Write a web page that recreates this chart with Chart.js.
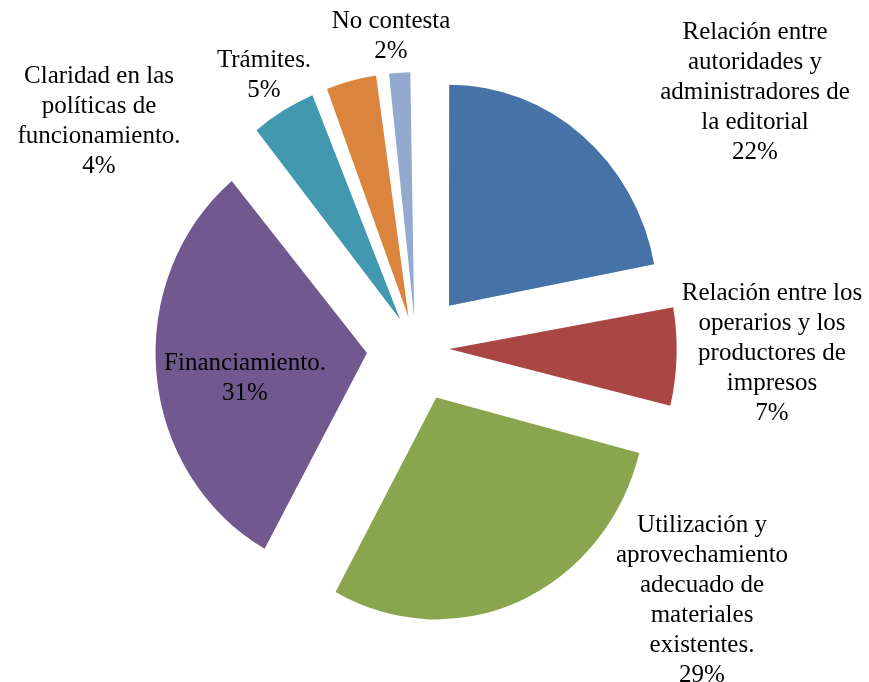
<!DOCTYPE html>
<html lang="es">
<head>
<meta charset="utf-8">
<title>Problemas de la editorial</title>
<script src="https://cdn.jsdelivr.net/npm/chart.js@4.4.1/dist/chart.umd.min.js"></script>
<style>
    html, body { margin: 0; padding: 0; background: #fff; }
    #wrap { position: relative; width: 869px; height: 682px; }
</style>
</head>
<body>
<div id="wrap"><canvas id="pieChart"></canvas></div>
<script>
/* ------- datos ------- */
const categories = [
    'Relación entre\nautoridades y\nadministradores de\nla editorial',
    'Relación entre los\noperarios y los\nproductores de\nimpresos',
    'Utilización y\naprovechamiento\nadecuado de\nmateriales\nexistentes.',
    'Financiamiento.',
    'Trámites.',
    'Claridad en las\npolíticas de\nfuncionamiento.',
    'No contesta'
];
const values = [22, 7, 29, 31, 5, 4, 2];

/* ------- estilo ------- */
const colors = ['#4572A7', '#AA4643', '#89A54E', '#71588F', '#4198AF', '#DB843D', '#93A9CF'];
// centro de cada etiqueta (x) y primera línea base (y)
const labelAnchors = [[755, 39], [772, 300], [702, 532], [245, 370], [264, 67], [99, 83], [391, 28]];
const explode = 52.7;   // separación de las porciones, px
const stretch = 1.058;  // la imagen original está algo alargada en vertical
const lineH = 30;

// Chart.js mueve cada arco offset/4 * (2 - sin(ángulo)); se compensa para que todas se separen igual
const total = values.reduce((a, b) => a + b, 0);
const offsets = values.map(v => {
    const circ = Math.PI * 2 * v / total;
    return 4 * explode / (2 - Math.sin(Math.min(Math.PI, circ)));
});

const stretchPlugin = {
    id: 'stretchY',
    beforeDatasetsDraw(chart) {
        const arc = chart.getDatasetMeta(0).data[0];
        const ctx = chart.ctx;
        ctx.save();
        ctx.translate(arc.x, arc.y);
        ctx.scale(1, stretch);
        ctx.translate(-arc.x, -arc.y);
    },
    afterDatasetsDraw(chart) {
        chart.ctx.restore();
    }
};

const labelPlugin = {
    id: 'sliceLabels',
    afterDraw(chart) {
        const ctx = chart.ctx;
        ctx.save();
        ctx.font = '25px "Liberation Serif", "Times New Roman", serif';
        ctx.fillStyle = '#000';
        ctx.textAlign = 'center';
        ctx.textBaseline = 'alphabetic';
        categories.forEach((name, i) => {
            const lines = name.split('\n').concat([values[i] + '%']);
            const [x, y] = labelAnchors[i];
            lines.forEach((t, j) => ctx.fillText(t, x, y + j * lineH));
        });
        ctx.restore();
    }
};

new Chart(document.getElementById('pieChart'), {
    type: 'pie',
    data: {
        labels: categories,
        datasets: [{
            data: values,
            backgroundColor: colors,
            borderWidth: 0,
            offset: offsets,
            hoverOffset: 0
        }]
    },
    options: {
        responsive: true,
        maintainAspectRatio: false,
        animation: false,
        radius: 208,
        layout: { padding: { left: 0, right: 37, top: 14, bottom: 0 } },
        plugins: {
            legend: { display: false },
            tooltip: { enabled: false }
        }
    },
    plugins: [stretchPlugin, labelPlugin]
});
</script>
</body>
</html>
